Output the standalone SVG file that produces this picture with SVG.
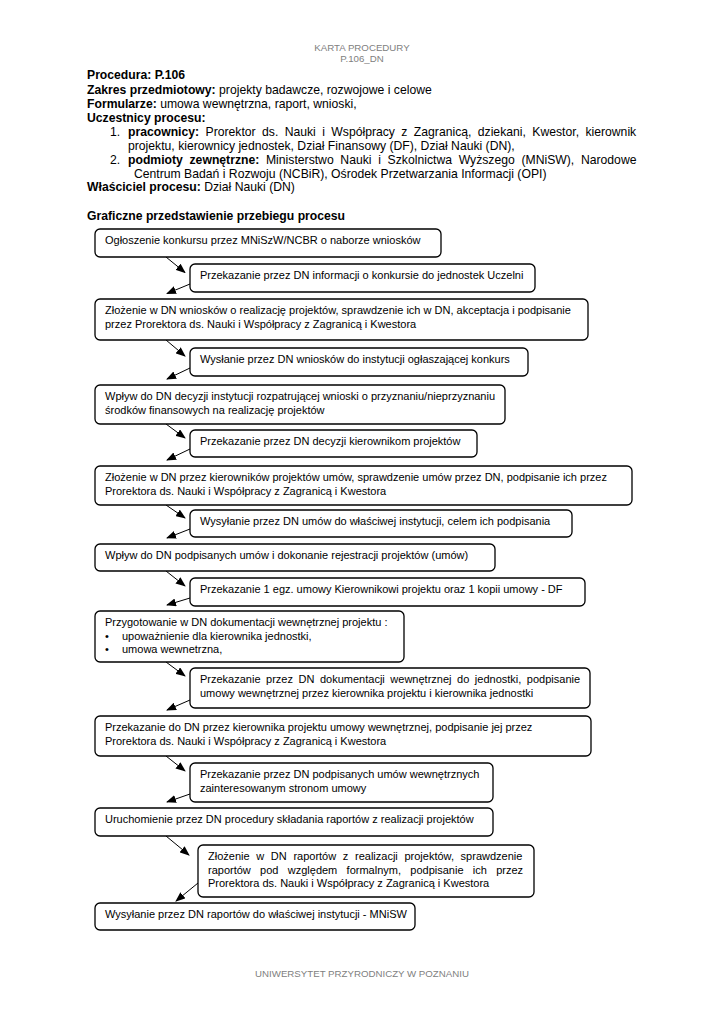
<svg xmlns="http://www.w3.org/2000/svg" width="724" height="1024" viewBox="0 0 724 1024">
<defs>
<marker id="ah" markerUnits="userSpaceOnUse" markerWidth="10" markerHeight="8" refX="9" refY="4" orient="auto">
<path d="M0,0 L10,4 L0,8 Z" fill="#000"/>
</marker>
<style>
.t{font-family:"Liberation Sans",Arial,sans-serif;font-size:12.2px;fill:#000}
.b{font-weight:bold}
.g{font-family:"Liberation Sans",Arial,sans-serif;font-size:9.7px;fill:#808080}
.bx{fill:#fff;stroke:#000;stroke-width:1.3}
.bt{font-family:"Liberation Sans",Arial,sans-serif;font-size:11px;fill:#000}
.ar{stroke:#000;stroke-width:1;fill:none;marker-end:url(#ah)}
</style>
</defs>
<rect width="724" height="1024" fill="#fff"/>

<g id="header">
<text class="g" x="362" y="51" text-anchor="middle">KARTA PROCEDURY</text>
<text class="g" x="362" y="62" text-anchor="middle">P.106_DN</text>
<text class="t b" x="87" y="79">Procedura: P.106</text>
<text class="t" x="87" y="94"><tspan class="b">Zakres przedmiotowy:</tspan> projekty badawcze, rozwojowe i celowe</text>
<text class="t" x="87" y="108"><tspan class="b">Formularze:</tspan> umowa wewnętrzna, raport, wnioski,</text>
<text class="t b" x="87" y="122">Uczestnicy procesu:</text>
<text class="t" x="110" y="136">1.</text>
<text class="t" x="128" y="136" style="word-spacing:3px"><tspan class="b">pracownicy:</tspan> Prorektor ds. Nauki i Współpracy z Zagranicą, dziekani, Kwestor, kierownik</text>
<text class="t" x="128" y="150">projektu, kierownicy jednostek, Dział Finansowy (DF), Dział Nauki (DN),</text>
<text class="t" x="110" y="164">2.</text>
<text class="t" x="128" y="164" style="word-spacing:3.3px"><tspan class="b">podmioty zewnętrzne:</tspan> Ministerstwo Nauki i Szkolnictwa Wyższego (MNiSW), Narodowe</text>
<text class="t" x="134" y="178">Centrum Badań i Rozwoju (NCBiR), Ośrodek Przetwarzania Informacji (OPI)</text>
<text class="t" x="87" y="191"><tspan class="b">Właściciel procesu:</tspan> Dział Nauki (DN)</text>
<text class="t b" x="87" y="220">Graficzne przedstawienie przebiegu procesu</text>
</g>

<g id="connectors">
<line class="ar" x1="166" y1="257" x2="185" y2="272.5"/>
<line class="ar" x1="190" y1="284" x2="167" y2="293.5"/>
<line class="ar" x1="166" y1="340" x2="185" y2="356"/>
<line class="ar" x1="190" y1="368" x2="167" y2="379"/>
<line class="ar" x1="166" y1="424" x2="185" y2="438"/>
<line class="ar" x1="190" y1="449" x2="167" y2="460"/>
<line class="ar" x1="166" y1="505" x2="185" y2="518"/>
<line class="ar" x1="190" y1="529" x2="167" y2="538"/>
<line class="ar" x1="166" y1="571" x2="185" y2="586"/>
<line class="ar" x1="190" y1="598" x2="167" y2="605"/>
<line class="ar" x1="166" y1="662" x2="185" y2="676"/>
<line class="ar" x1="190" y1="700" x2="167" y2="710"/>
<line class="ar" x1="166" y1="756" x2="185" y2="771"/>
<line class="ar" x1="190" y1="794" x2="167" y2="802"/>
<line class="ar" x1="166" y1="836" x2="189" y2="855"/>
<line class="ar" x1="198" y1="883" x2="176" y2="901"/>
</g>

<g id="n1"><rect class="bx" x="95" y="229" width="346" height="28" rx="5"/>
<text class="bt" x="105" y="244">Ogłoszenie konkursu przez MNiSzW/NCBR o naborze wniosków</text></g>

<g id="n2"><rect class="bx" x="190" y="264" width="345" height="28" rx="5"/>
<text class="bt" x="200" y="279">Przekazanie przez DN informacji o konkursie do jednostek Uczelni</text></g>

<g id="n3"><rect class="bx" x="95" y="299" width="493" height="41" rx="5"/>
<text class="bt" x="105" y="314">Złożenie w DN wniosków o realizację projektów, sprawdzenie ich w DN, akceptacja i podpisanie</text>
<text class="bt" x="105" y="327.5">przez Prorektora ds. Nauki i Współpracy z Zagranicą i Kwestora</text></g>

<g id="n4"><rect class="bx" x="190" y="348" width="338" height="28" rx="5"/>
<text class="bt" x="200" y="363">Wysłanie przez DN wniosków do instytucji ogłaszającej konkurs</text></g>

<g id="n5"><rect class="bx" x="95" y="385" width="410" height="39" rx="5"/>
<text class="bt" x="105" y="400">Wpływ do DN decyzji instytucji rozpatrującej wnioski o przyznaniu/nieprzyznaniu</text>
<text class="bt" x="105" y="413.5">środków finansowych na realizację projektów</text></g>

<g id="n6"><rect class="bx" x="190" y="430" width="287" height="27" rx="5"/>
<text class="bt" x="200" y="445">Przekazanie przez DN decyzji kierownikom projektów</text></g>

<g id="n7"><rect class="bx" x="95" y="466" width="537" height="39" rx="5"/>
<text class="bt" x="105" y="481">Złożenie w DN przez kierowników projektów umów, sprawdzenie umów przez DN, podpisanie ich przez</text>
<text class="bt" x="105" y="494.5">Prorektora ds. Nauki i Współpracy z Zagranicą i Kwestora</text></g>

<g id="n8"><rect class="bx" x="190" y="510" width="382" height="27" rx="5"/>
<text class="bt" x="200" y="525">Wysyłanie przez DN umów do właściwej instytucji, celem ich podpisania</text></g>

<g id="n9"><rect class="bx" x="95" y="544" width="400" height="27" rx="5"/>
<text class="bt" x="105" y="559">Wpływ do DN podpisanych umów i dokonanie rejestracji projektów (umów)</text></g>

<g id="n10"><rect class="bx" x="190" y="578" width="395" height="28" rx="5"/>
<text class="bt" x="200" y="593">Przekazanie 1 egz. umowy Kierownikowi projektu oraz 1 kopii umowy - DF</text></g>

<g id="n11"><rect class="bx" x="95" y="611" width="309" height="51" rx="5"/>
<text class="bt" x="105" y="626">Przygotowanie w DN dokumentacji wewnętrznej projektu :</text>
<text class="bt" x="105" y="639.5">•</text><text class="bt" x="122" y="639.5">upoważnienie dla kierownika jednostki,</text>
<text class="bt" x="105" y="653">•</text><text class="bt" x="122" y="653">umowa wewnetrzna,</text></g>

<g id="n12"><rect class="bx" x="190" y="668" width="400" height="40" rx="5"/>
<text class="bt" x="200" y="683" style="word-spacing:2.5px">Przekazanie przez DN dokumentacji wewnętrznej do jednostki, podpisanie</text>
<text class="bt" x="200" y="696.5">umowy wewnętrznej przez kierownika projektu i kierownika jednostki</text></g>

<g id="n13"><rect class="bx" x="95" y="716" width="496" height="40" rx="5"/>
<text class="bt" x="105" y="731">Przekazanie do DN przez kierownika projektu umowy wewnętrznej, podpisanie jej przez</text>
<text class="bt" x="105" y="744.5">Prorektora ds. Nauki i Współpracy z Zagranicą i Kwestora</text></g>

<g id="n14"><rect class="bx" x="190" y="763" width="303" height="39" rx="5"/>
<text class="bt" x="200" y="778">Przekazanie przez DN podpisanych umów wewnętrznych</text>
<text class="bt" x="200" y="791.5">zainteresowanym stronom umowy</text></g>

<g id="n15"><rect class="bx" x="95" y="808" width="398" height="28" rx="5"/>
<text class="bt" x="105" y="823">Uruchomienie przez DN procedury składania raportów z realizacji projektów</text></g>

<g id="n16"><rect class="bx" x="198" y="845" width="336" height="52" rx="5"/>
<text class="bt" x="208" y="860" style="word-spacing:3.6px">Złożenie w DN raportów z realizacji projektów, sprawdzenie</text>
<text class="bt" x="208" y="873.5" style="word-spacing:6.25px">raportów pod względem formalnym, podpisanie ich przez</text>
<text class="bt" x="208" y="887">Prorektora ds. Nauki i Współpracy z Zagranicą i Kwestora</text></g>

<g id="n17"><rect class="bx" x="95" y="903" width="320" height="27" rx="5"/>
<text class="bt" x="105" y="918">Wysyłanie przez DN raportów do właściwej instytucji - MNiSW</text></g>

<g id="footer">
<text class="g" x="362" y="977" text-anchor="middle">UNIWERSYTET PRZYRODNICZY W POZNANIU</text>
</g>
</svg>
